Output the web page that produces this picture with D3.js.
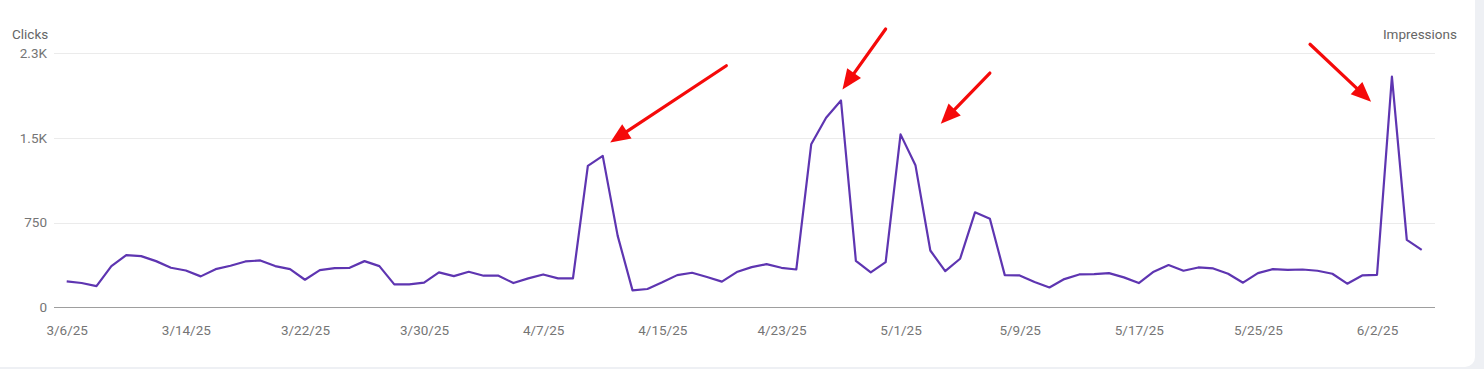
<!DOCTYPE html>
<html>
<head>
<meta charset="utf-8">
<script src="https://cdn.jsdelivr.net/npm/d3@7"></script>
<style>
  html, body { margin: 0; padding: 0; background: #eef0f4; }
  svg { display: block; font-family: Roboto, "Noto Sans", sans-serif; }
</style>
</head>
<body>
<div id="chart"></div>
<script>
// chart data
const startDate = "2025-03-06";
const clicks = [
  229, 215, 188, 365, 462, 453, 409, 350, 326, 274, 338, 368, 406, 415, 365, 338,
  244, 329, 347, 350, 409, 365, 203, 203, 218, 309, 276, 315, 280, 280, 215, 256,
  291, 256, 256, 1253, 1341, 635, 150, 162, 221, 285, 306, 268, 227, 312, 356, 382,
  350, 335, 1444, 1679, 1832, 412, 309, 400, 1532, 1259, 503, 320, 430, 841, 785, 285,
  282, 224, 176, 250, 291, 294, 303, 265, 215, 315, 374, 324, 353, 344, 297,
  218, 303, 338, 332, 335, 324, 297, 209, 282, 288, 2044, 597, 509
];
const yTicks = [0, 750, 1500, 2250];
const yTickLabels = ["0", "750", "1.5K", "2.3K"];
const xTickEvery = 8; // a date label every 8 days

// red arrows, in data units: [tailDay, tailValue, tipDay, tipValue]
const arrows = [
  [44.3, 2140, 36.5, 1460],
  [55, 2465, 52.1, 1930],
  [62, 2075, 58.7, 1625],
  [83.5, 2330, 87.6, 1820]
];

const width = 1484;
const height = 369;

const parse = d3.timeParse("%Y-%m-%d");
const dates = clicks.map((d, i) => d3.timeDay.offset(parse(startDate), i));
const data = clicks.map((v, i) => ({ date: dates[i], value: v }));

const svg = d3.select("#chart").append("svg")
  .attr("width", width)
  .attr("height", height);

// card
svg.append("rect")
  .attr("x", -20).attr("y", -20)
  .attr("width", 1495).attr("height", 387)
  .attr("rx", 10)
  .attr("fill", "#fff");

const x = d3.scaleTime()
  .domain(d3.extent(dates))
  .range([66.7, 1421.7]);

const y = d3.scaleLinear()
  .domain([0, 2250])
  .range([307.3, 53.3]);

const plotLeft = 54, plotRight = 1435;

// gridlines
svg.append("g")
  .selectAll("line")
  .data(yTicks)
  .enter()
  .append("line")
  .attr("x1", plotLeft)
  .attr("x2", plotRight)
  .attr("y1", (d) => Math.round(y(d)) + 0.5)
  .attr("y2", (d) => Math.round(y(d)) + 0.5)
  .attr("stroke", (d) => d === 0 ? "#9e9e9e" : "#ebebeb")
  .attr("stroke-width", 1);

// y labels
svg.append("g")
  .selectAll("text")
  .data(yTicks)
  .enter()
  .append("text")
  .attr("x", 47)
  .attr("y", (d) => y(d))
  .attr("dy", "0.35em")
  .attr("text-anchor", "end")
  .attr("fill", "#757575")
  .style("font-size", "13.5px")
  .text((d, i) => yTickLabels[i]);

// x axis labels
const xAxis = d3.axisBottom(x)
  .tickValues(dates.filter((d, i) => i % xTickEvery === 0))
  .tickFormat(d3.timeFormat("%-m/%-d/%y"))
  .tickSize(0)
  .tickPadding(0);

const gx = svg.append("g")
  .attr("transform", "translate(0,330)")
  .call(xAxis);
gx.select(".domain").remove();
gx.selectAll("text")
  .attr("fill", "#757575")
  .attr("dy", "0.35em")
  .attr("y", 0)
  .style("font-size", "13.5px")
  .style("font-family", "Roboto, 'Noto Sans', sans-serif");

// axis titles
svg.append("text")
  .attr("x", 12).attr("y", 39)
  .attr("fill", "#666")
  .style("font-size", "13.5px")
  .text("Clicks");

svg.append("text")
  .attr("x", 1457).attr("y", 39)
  .attr("text-anchor", "end")
  .attr("fill", "#666")
  .style("font-size", "13.5px")
  .text("Impressions");

// clicks line
const line = d3.line()
  .x((d) => x(d.date))
  .y((d) => y(d.value));

svg.append("path")
  .datum(data)
  .attr("d", line)
  .attr("fill", "none")
  .attr("stroke", "#5e35b1")
  .attr("stroke-width", 2.2)
  .attr("stroke-linejoin", "round");

// red arrows
const dayX = (d) => x(dates[0]) + (x(dates[1]) - x(dates[0])) * d;
arrows.forEach(([d0, v0, d1, v1]) => {
  const x0 = dayX(d0), y0 = y(v0), x1 = dayX(d1), y1 = y(v1);
  const ang = Math.atan2(y1 - y0, x1 - x0);
  const headLen = 20, headHalf = 8.5;
  const bx = x1 - headLen * Math.cos(ang), by = y1 - headLen * Math.sin(ang);
  svg.append("line")
    .attr("x1", x0).attr("y1", y0)
    .attr("x2", bx + 3 * Math.cos(ang)).attr("y2", by + 3 * Math.sin(ang))
    .attr("stroke", "#f50a0a")
    .attr("stroke-width", 3.2)
    .attr("stroke-linecap", "round");
  const px = -Math.sin(ang), py = Math.cos(ang);
  svg.append("path")
    .attr("d", `M${x1},${y1}L${bx + px * headHalf},${by + py * headHalf}L${bx - px * headHalf},${by - py * headHalf}Z`)
    .attr("fill", "#f50a0a");
});
</script>
</body>
</html>
